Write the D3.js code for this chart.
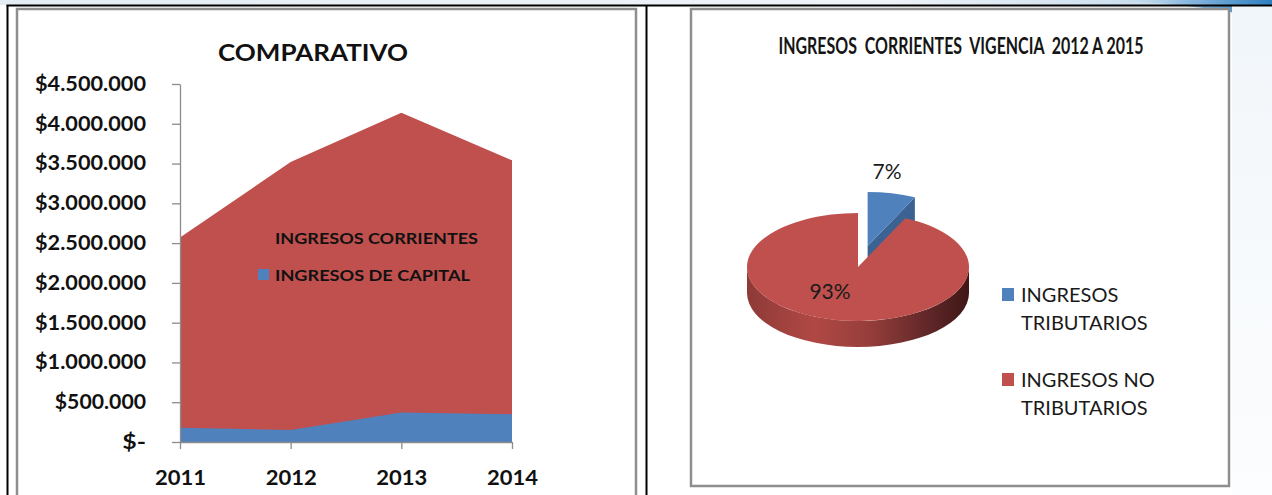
<!DOCTYPE html>
<html>
<head>
<meta charset="utf-8">
<script src="https://cdn.jsdelivr.net/npm/d3@7"></script>
<style>
  html, body { margin: 0; padding: 0; background: #ffffff; }
  svg { display: block; }
  text { font-family: Lato, "Noto Sans", "DejaVu Sans", sans-serif; }
</style>
</head>
<body>
<svg id="sheet" width="1272" height="495"></svg>
<script>
// ---- Area chart: COMPARATIVO ----
const years = ["2011", "2012", "2013", "2014"];
const ingresosCorrientes = [2570000, 3520000, 4140000, 3540000];
const ingresosCapital = [180000, 150000, 370000, 350000];
const yTickValues = [0, 500000, 1000000, 1500000, 2000000, 2500000, 3000000, 3500000, 4000000, 4500000];
const areaSeriesNames = ["INGRESOS CORRIENTES", "INGRESOS DE CAPITAL"];
const areaColors = ["#C0504D", "#4F81BD"];

// ---- Pie chart: INGRESOS CORRIENTES VIGENCIA 2012 A 2015 ----
const pieCategories = ["INGRESOS TRIBUTARIOS", "INGRESOS NO TRIBUTARIOS"];
const pieLegendLines = [["INGRESOS", "TRIBUTARIOS"], ["INGRESOS NO", "TRIBUTARIOS"]];
const piePercent = [7, 93];
const pieColors = ["#4F81BD", "#C0504D"];
const pieWallColors = ["#3A6393", null];

const svg = d3.select("#sheet");
const defs = svg.append("defs");

// page decoration: pale header band and blue swoosh at the top right
const band = defs.append("linearGradient").attr("id", "band").attr("x1", 0).attr("x2", 1);
band.append("stop").attr("offset", 0).attr("stop-color", "#e4edf4");
band.append("stop").attr("offset", 0.7).attr("stop-color", "#eef3f8");
band.append("stop").attr("offset", 1).attr("stop-color", "#b9d3e8");
svg.append("rect").attr("x", 0).attr("y", 0).attr("width", 1272).attr("height", 5).attr("fill", "url(#band)");

const swoosh = defs.append("linearGradient").attr("id", "swoosh").attr("x1", 0).attr("x2", 1);
swoosh.append("stop").attr("offset", 0).attr("stop-color", "#cfe1f0").attr("stop-opacity", 0);
swoosh.append("stop").attr("offset", 0.45).attr("stop-color", "#8fbbe0");
swoosh.append("stop").attr("offset", 1).attr("stop-color", "#2f7fc0");
svg.append("path")
  .attr("d", "M1110,0 C1170,3 1215,8 1272,20 L1272,0 Z")
  .attr("fill", "url(#swoosh)");

const side = defs.append("linearGradient").attr("id", "sideFade").attr("x1", 0).attr("x2", 0).attr("y1", 0).attr("y2", 1);
side.append("stop").attr("offset", 0).attr("stop-color", "#f1f6fa");
side.append("stop").attr("offset", 1).attr("stop-color", "#fcfdfe");
svg.append("rect").attr("x", 1232).attr("y", 6).attr("width", 40).attr("height", 489).attr("fill", "url(#sideFade)");

// table rules
svg.append("line").attr("x1", 6.5).attr("x2", 1272).attr("y1", 5.5).attr("y2", 5.5).attr("stroke", "#000").attr("stroke-width", 2);
svg.append("line").attr("x1", 7.5).attr("x2", 7.5).attr("y1", 5).attr("y2", 495).attr("stroke", "#000").attr("stroke-width", 2);
svg.append("line").attr("x1", 646.5).attr("x2", 646.5).attr("y1", 5).attr("y2", 495).attr("stroke", "#000").attr("stroke-width", 2);

// chart frames
svg.append("rect").attr("x", 17).attr("y", 9).attr("width", 619).attr("height", 500)
  .attr("fill", "#fff").attr("stroke", "#8e8e8e").attr("stroke-width", 2.5);
svg.append("rect").attr("x", 691).attr("y", 9).attr("width", 538).attr("height", 477)
  .attr("fill", "#fff").attr("stroke", "#8e8e8e").attr("stroke-width", 2.5);

// ================= Area chart =================
const left = svg.append("g");
const x = d3.scalePoint().domain(years).range([180, 512]);
const y = d3.scaleLinear().domain([0, 4500000]).range([442, 84]);

left.append("text").attr("x", 313).attr("y", 61).attr("text-anchor", "middle")
  .attr("font-weight", 700).attr("font-size", 23).attr("fill", "#111")
  .attr("textLength", 190).attr("lengthAdjust", "spacingAndGlyphs")
  .text("COMPARATIVO");

const areaGen = d3.area()
  .x((d, i) => x(years[i]))
  .y0(y(0))
  .y1(d => y(d));

[ingresosCorrientes, ingresosCapital].forEach((vals, k) => {
  left.append("path").attr("d", areaGen(vals)).attr("fill", areaColors[k]);
});

const fmt = v => v === 0 ? "$-" : "$" + d3.format(",")(v).replace(/,/g, ".");
const yAxis = left.append("g").attr("transform", "translate(180,0)")
  .call(d3.axisLeft(y).tickValues(yTickValues).tickFormat(fmt).tickSize(8).tickSizeOuter(0).tickPadding(26));
yAxis.selectAll("text")
  .attr("font-weight", 700).attr("font-size", 20).attr("fill", "#111")
  .attr("font-family", "Lato, sans-serif")
  .attr("textLength", d => fmt(d).length * 11.9 - (fmt(d).match(/\./g) || []).length * 4)
  .attr("lengthAdjust", "spacingAndGlyphs");
yAxis.selectAll("line, path").attr("stroke", "#8c8c8c").attr("stroke-width", 1.3);

const xAxis = left.append("g").attr("transform", "translate(0,442)")
  .call(d3.axisBottom(x).tickSize(7).tickSizeOuter(0).tickPadding(21));
xAxis.selectAll("text")
  .attr("font-weight", 700).attr("font-size", 21).attr("fill", "#111")
  .attr("font-family", "Lato, sans-serif")
  .attr("textLength", 51).attr("lengthAdjust", "spacingAndGlyphs");
xAxis.selectAll("line, path").attr("stroke", "#8c8c8c").attr("stroke-width", 1.3);

// in-plot legend
const areaLegend = left.append("g").attr("transform", "translate(258,0)");
areaSeriesNames.forEach((name, i) => {
  const yy = 238 + i * 37;
  areaLegend.append("rect").attr("x", 0).attr("y", yy - 6).attr("width", 11).attr("height", 11).attr("fill", areaColors[i]);
  areaLegend.append("text").attr("x", 17).attr("y", yy + 6)
    .attr("font-weight", 700).attr("font-size", 16).attr("fill", "#111")
    .attr("textLength", i === 0 ? 203 : 195).attr("lengthAdjust", "spacingAndGlyphs")
    .text(name);
});

// ================= 3D pie =================
const right = svg.append("g");
// tall, narrow title lettering: small face stretched vertically
right.append("g").attr("transform", "translate(961,54) scale(1,1.5)")
  .append("text").attr("x", 0).attr("y", 0).attr("text-anchor", "middle")
  .attr("font-family", "Roboto, sans-serif").attr("font-weight", 700).attr("font-size", 15)
  .attr("fill", "#151515").attr("textLength", 365).attr("lengthAdjust", "spacingAndGlyphs")
  .style("white-space", "pre")
  .text("INGRESOS  CORRIENTES  VIGENCIA  2012 A 2015");

const cx = 858, cy = 267, rx = 111, ry = 54, depth = 26, explode = 44;
const pieArcs = d3.pie().sort(null).value(d => d)(piePercent);

// point on the projected rim; angle 0 is 12 o'clock, clockwise
const rim = (a, ox, oy, dz = 0) => [ox + rx * Math.sin(a), oy - ry * Math.cos(a) + dz];

const topFace = (a0, a1, ox, oy) => {
  const p0 = rim(a0, ox, oy), p1 = rim(a1, ox, oy);
  const large = (a1 - a0) > Math.PI ? 1 : 0;
  return `M${ox},${oy}L${p0[0]},${p0[1]}A${rx},${ry} 0 ${large} 1 ${p1[0]},${p1[1]}Z`;
};
const outerWall = (a0, a1, ox, oy) => {
  const s = Math.max(a0, Math.PI / 2), e = Math.min(a1, 3 * Math.PI / 2);
  if (e <= s) return null;
  const p0 = rim(s, ox, oy), p1 = rim(e, ox, oy);
  const q1 = rim(e, ox, oy, depth), q0 = rim(s, ox, oy, depth);
  return `M${p0[0]},${p0[1]}A${rx},${ry} 0 0 1 ${p1[0]},${p1[1]}` +
         `L${q1[0]},${q1[1]}A${rx},${ry} 0 0 0 ${q0[0]},${q0[1]}Z`;
};
const radialWall = (a, ox, oy) => {
  const p = rim(a, ox, oy), q = rim(a, ox, oy, depth);
  return `M${ox},${oy}L${p[0]},${p[1]}L${q[0]},${q[1]}L${ox},${oy + depth}Z`;
};

const wallGrad = defs.append("linearGradient").attr("id", "redWall")
  .attr("gradientUnits", "userSpaceOnUse").attr("x1", cx - rx).attr("x2", cx + rx).attr("y1", 0).attr("y2", 0);
[[0, "#8e3a37"], [0.3, "#b04845"], [0.55, "#963e3b"], [0.8, "#63282a"], [1, "#3f1716"]]
  .forEach(([o, c]) => wallGrad.append("stop").attr("offset", o).attr("stop-color", c));

// exploded slice first (sits behind), then the large slice
const order = [0, 1];
order.forEach(i => {
  const d = pieArcs[i];
  const mid = (d.startAngle + d.endAngle) / 2;
  const off = i === 0 ? explode : 0;
  const ox = cx + off * Math.sin(mid), oy = cy - off * Math.cos(mid) * (ry / rx);
  const g = right.append("g");
  const wall = outerWall(d.startAngle, d.endAngle, ox, oy);
  if (wall) g.append("path").attr("d", wall).attr("fill", i === 1 ? "url(#redWall)" : pieWallColors[i]);
  if (i === 0) g.append("path").attr("d", radialWall(d.endAngle, ox, oy)).attr("fill", pieWallColors[i]);
  g.append("path").attr("d", topFace(d.startAngle, d.endAngle, ox, oy)).attr("fill", pieColors[i]);
});

// percentage labels
const labelPos = [[29, -88], [-28, 32]];
pieArcs.forEach((d, i) => {
  right.append("text").attr("x", cx + labelPos[i][0]).attr("y", cy + labelPos[i][1])
    .attr("text-anchor", "middle").attr("font-size", 21).attr("fill", "#1a1a1a")
    .text(Math.round(d.data) + "%");
});

// legend
const pieLegend = right.append("g").attr("transform", "translate(1002,0)");
pieCategories.forEach((name, i) => {
  const top = 288 + i * 85;
  pieLegend.append("rect").attr("x", 0).attr("y", top).attr("width", 12).attr("height", 13).attr("fill", pieColors[i]);
  pieLegendLines[i].forEach((line, j) => {
    pieLegend.append("text").attr("x", 19).attr("y", top + 14 + j * 28)
      .attr("font-size", 20).attr("fill", "#1a1a1a").text(line);
  });
});
</script>
</body>
</html>
